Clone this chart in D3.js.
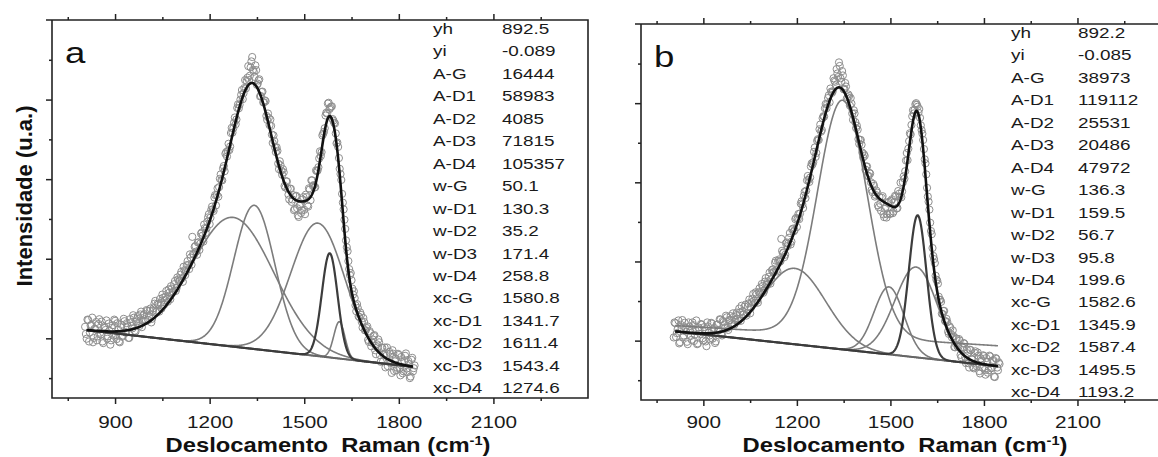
<!DOCTYPE html>
<html>
<head>
<meta charset="utf-8">
<script src="https://cdnjs.cloudflare.com/ajax/libs/d3/7.8.5/d3.min.js"></script>
<style>
  body { margin: 0; background: #fff; }
  svg { font-family: "Liberation Sans", Arial, sans-serif; }
</style>
</head>
<body>
<div id="chart"></div>
<script>
var width = 1158;
var height = 457;

// measured spectra: one set read at 805, 810, ... cm-1 and one in between (807.5, 812.5, ...)
var ramanStep = 5;
var intensityA = [829,799,846,815,834,790,824,841,805,848,810,792,830,821,799,837,784,826,807,844,
  798,822,790,834,807,843,814,830,801,840,825,852,817,849,836,860,828,858,848,871,
  846,869,840,869,887,866,887,867,889,910,884,905,900,923,898,925,917,944,926,948,
  945,967,942,971,969,994,974,1003,1055,1010,1032,1010,1041,1038,1066,1043,1077,1076,1104,1087,
  1123,1124,1154,1134,1177,1180,1212,1197,1233,1264,1257,1289,1282,1329,1328,1355,1350,1388,1387,1412,
  1401,1429,1428,1455,1449,1481,1507,1470,1486,1437,1448,1408,1419,1393,1398,1359,1365,1336,1334,1291,
  1296,1268,1271,1225,1235,1211,1217,1179,1194,1161,1176,1143,1160,1125,1158,1109,1133,1115,1149,1123,
  1161,1134,1177,1147,1197,1185,1180,1220,1230,1270,1268,1314,1328,1367,1390,1376,1382,1351,1342,1315,
  1292,1253,1213,1163,1124,1075,1029,994,959,946,910,901,868,876,853,859,827,841,820,830,
  791,813,789,806,770,785,797,758,777,742,777,756,730,766,738,770,718,749,726,758,
  707,740,717,756,724,743,700,746,717,732];
var intensityAmid = [811,847,792,832,852,801,823,795,836,814,842,788,826,845,805,819,795,833,847,809,
  838,792,828,804,849,816,838,801,848,831,858,819,842,856,831,867,845,861,843,869,
  856,875,849,876,894,869,885,899,875,902,896,919,892,915,931,916,936,919,953,943,
  960,951,980,959,984,984,1011,985,1012,1030,1018,1041,1022,1063,1058,1086,1065,1093,1112,1103,
  1131,1120,1160,1160,1156,1201,1198,1227,1220,1268,1271,1273,1316,1317,1342,1338,1379,1378,1400,1424,
  1416,1449,1447,1484,1460,1496,1475,1457,1474,1440,1451,1409,1420,1393,1396,1349,1354,1350,1312,1310,
  1280,1280,1239,1245,1221,1225,1183,1195,1176,1149,1176,1149,1122,1157,1127,1105,1137,1121,1155,1112,
  1155,1131,1174,1197,1183,1179,1222,1222,1252,1258,1310,1319,1360,1365,1392,1379,1383,1347,1340,1290,
  1281,1226,1198,1141,1098,1046,1019,974,964,925,918,883,886,855,865,841,851,820,826,796,
  818,780,797,808,760,777,790,741,776,759,727,777,741,761,713,761,742,720,761,724,
  753,712,743,762,715,735,704,751,725];
var intensityB = [808,844,819,851,796,832,808,845,823,791,836,812,846,799,825,791,833,817,840,800,
  826,786,836,813,845,805,832,798,841,826,853,813,847,832,859,827,851,841,869,841,
  864,854,881,850,874,866,891,869,894,869,897,918,895,917,896,932,922,938,926,958,
  943,961,944,978,972,997,978,1001,999,1057,1021,1011,1046,1039,1060,1043,1081,1076,1107,1087,
  1120,1121,1152,1135,1176,1179,1216,1201,1240,1245,1277,1264,1305,1307,1346,1332,1367,1387,1387,1413,
  1402,1429,1430,1457,1445,1475,1503,1463,1481,1435,1451,1411,1422,1394,1399,1358,1374,1337,1333,1297,
  1307,1275,1271,1232,1240,1216,1222,1181,1196,1164,1179,1142,1163,1128,1165,1112,1138,1119,1151,1121,
  1157,1126,1166,1134,1178,1164,1162,1200,1209,1255,1256,1304,1321,1367,1374,1397,1396,1376,1363,1332,
  1307,1258,1220,1164,1131,1077,1034,1006,964,952,911,903,868,875,850,855,823,836,816,826,
  784,806,786,804,764,784,794,758,778,743,777,754,733,769,742,770,723,755,732,761,
  714,747,725,760,731,751,708,754,725,741];
var intensityBmid = [846,809,829,793,840,852,813,833,797,846,824,802,839,815,851,793,829,842,806,834,
  798,846,820,803,843,829,794,840,827,854,817,850,839,863,832,852,862,842,860,852,
  871,850,871,888,866,886,863,886,904,883,906,901,922,901,923,919,943,921,949,941,
  950,972,955,980,975,1002,975,1005,1001,1027,1023,1017,1048,1045,1072,1050,1083,1079,1110,1108,
  1107,1146,1144,1166,1160,1205,1206,1212,1248,1251,1288,1274,1309,1334,1328,1362,1366,1398,1398,1420,
  1437,1426,1463,1454,1486,1466,1494,1454,1470,1436,1442,1415,1418,1413,1374,1382,1352,1343,1309,1307,
  1295,1263,1267,1240,1216,1224,1200,1175,1191,1168,1174,1137,1146,1161,1119,1133,1111,1148,1120,1153,
  1122,1150,1164,1135,1171,1199,1177,1215,1228,1274,1285,1324,1345,1382,1383,1400,1391,1385,1344,1323,
  1284,1248,1186,1151,1098,1069,1014,996,954,944,903,898,867,875,848,847,817,832,808,811,
  783,805,783,800,758,782,792,743,768,732,776,752,730,773,735,762,717,750,763,726,
  756,719,762,730,749,709,756,732,745];

// fit parameters printed in each panel
var paramNames = ["yh","yi","A-G","A-D1","A-D2","A-D3","A-D4","w-G","w-D1","w-D2","w-D3","w-D4",
  "xc-G","xc-D1","xc-D2","xc-D3","xc-D4"];
var paramsA = [892.5,-0.089,16444,58983,4085,71815,105357,50.1,130.3,35.2,171.4,258.8,
  1580.8,1341.7,1611.4,1543.4,1274.6];
var paramsB = [892.2,-0.085,38973,119112,25531,20486,47972,136.3,159.5,56.7,95.8,199.6,
  1582.6,1345.9,1587.4,1495.5,1193.2];
var peaks = ["G","D1","D2","D3","D4"];

// in panel b the D1 band is drawn on a raised straight line (read at its two ends)
var raisedBaseX = [810, 1845];
var raisedBaseB = [838, 787];

var xMajor = [900,1200,1500,1800,2100];
var xMinor = [750,1050,1350,1650,1950,2250];
var yMajor = [800,1000,1200,1400];
var yMinor = [700,900,1100,1300,1500];

var stretch = "scale(1.22,1)";

var svg = d3.select("#chart")
  .append("svg")
  .attr("width", width)
  .attr("height", height);

function param(vals, key) { return vals[paramNames.indexOf(key)]; }

function gauss(x, A, w, xc) {
  return A / (w * Math.sqrt(Math.PI / 2)) * Math.exp(-2 * Math.pow((x - xc) / w, 2));
}

var panels = [
  {label: "a", values: paramsA, data: intensityA, mid: intensityAmid, dark: "G", raised: null,
   left: 52, right: 588, top: 20, bottom: 398, tableX: 433, valueX: 502, tableY: 34, titleX: 328, pad: 12},
  {label: "b", values: paramsB, data: intensityB, mid: intensityBmid, dark: "D2", raised: "D1",
   left: 641, right: 1171, top: 24, bottom: 400, tableX: 1011, valueX: 1078, tableY: 38, titleX: 905, pad: 10}
];

panels.forEach(function(p) {
  var x = d3.scaleLinear().domain([700, 2400]).range([p.left, p.right]);
  var y = d3.scaleLinear().domain([650, 1600]).range([p.bottom, p.top]);
  var g = svg.append("g");

  var yh = param(p.values, "yh"), yi = param(p.values, "yi");
  var base = function(v) { return yh + yi * v; };
  var raisedLine = d3.scaleLinear().domain(raisedBaseX).range(raisedBaseB);
  var comp = function(name) {
    var A = param(p.values, "A-" + name), w = param(p.values, "w-" + name), xc = param(p.values, "xc-" + name);
    return function(v) { return gauss(v, A, w, xc); };
  };
  var grid = d3.range(810, 1846, 1);

  // data points
  var pts = p.data.map(function(d, i) { return [805 + i * ramanStep, d]; })
    .concat(p.mid.map(function(d, i) { return [807.5 + i * ramanStep, d]; }));
  g.selectAll(".pt")
    .data(pts)
    .enter().append("circle")
      .attr("cx", function(d) { return x(d[0]); })
      .attr("cy", function(d) { return y(d[1]); })
      .attr("r", 3.6)
      .attr("fill", "none")
      .attr("stroke", "#8e8e8e")
      .attr("stroke-width", 1);

  var line = d3.line().x(function(d) { return x(d[0]); }).y(function(d) { return y(d[1]); });

  // components (gray), narrow one darker
  peaks.forEach(function(name) {
    if (name === p.dark) return;
    var f = comp(name);
    var b0 = name === p.raised ? raisedLine : base;
    g.append("path")
      .attr("d", line(grid.map(function(v) { return [v, b0(v) + f(v)]; })))
      .attr("fill", "none").attr("stroke", "#7c7c7c").attr("stroke-width", 1.6);
  });
  g.append("path")
    .attr("d", line(grid.map(function(v) { return [v, base(v)]; })))
    .attr("fill", "none").attr("stroke", "#666").attr("stroke-width", 2);
  var fd = comp(p.dark);
  g.append("path")
    .attr("d", line(grid.map(function(v) { return [v, base(v) + fd(v)]; })))
    .attr("fill", "none").attr("stroke", "#3c3c3c").attr("stroke-width", 2.2);

  // cumulative fit
  var fits = peaks.map(comp);
  g.append("path")
    .attr("d", line(grid.map(function(v) { return [v, base(v) + d3.sum(fits, function(f) { return f(v); })]; })))
    .attr("fill", "none").attr("stroke", "#111").attr("stroke-width", 2.6);

  // frame
  g.append("path")
    .attr("d", "M" + (p.left - 6) + "," + p.top + "H" + p.right + "V" + p.bottom + "H" + p.left + "V" + p.top)
    .attr("fill", "none").attr("stroke", "#222").attr("stroke-width", 1.6);

  function axisG(axis, tx, ty) {
    var a = g.append("g").attr("transform", "translate(" + tx + "," + ty + ")").call(axis);
    a.select(".domain").remove();
    a.selectAll("line").attr("stroke", "#222").attr("stroke-width", 1.5);
    return a;
  }

  var bottom = axisG(d3.axisBottom(x).tickValues(xMajor).tickSize(6).tickPadding(p.pad)
    .tickFormat(d3.format("d")), 0, p.bottom);
  bottom.attr("font-size", 17).attr("font-family", null);
  bottom.selectAll("text").attr("fill", "#1a1a1a").attr("transform", stretch);
  axisG(d3.axisBottom(x).tickValues(xMinor).tickSize(3).tickFormat(""), 0, p.bottom);
  axisG(d3.axisTop(x).tickValues(xMajor).tickSize(6).tickFormat(""), 0, p.top);
  axisG(d3.axisTop(x).tickValues(xMinor).tickSize(3).tickFormat(""), 0, p.top);
  axisG(d3.axisLeft(y).tickValues(yMajor).tickSize(6).tickFormat(""), p.left, 0);
  axisG(d3.axisLeft(y).tickValues(yMinor).tickSize(3).tickFormat(""), p.left, 0);

  // panel letter
  g.append("text")
    .attr("transform", "translate(" + (p.left + 13) + "," + (p.top + 43) + ") " + stretch)
    .attr("font-size", 30)
    .attr("fill", "#111")
    .text(p.label);

  // parameter table
  paramNames.forEach(function(name, i) {
    var ty = p.tableY + i * 22.45;
    g.append("text")
      .attr("transform", "translate(" + p.tableX + "," + ty + ") " + stretch)
      .attr("font-size", 15.5).attr("fill", "#1a1a1a")
      .text(name);
    g.append("text")
      .attr("transform", "translate(" + p.valueX + "," + ty + ") " + stretch)
      .attr("font-size", 15.5).attr("fill", "#1a1a1a")
      .text(String(p.values[i]));
  });

  // x axis title
  var title = g.append("text")
    .attr("transform", "translate(" + p.titleX + ",452) " + stretch)
    .attr("text-anchor", "middle")
    .attr("font-size", 19.5)
    .attr("font-weight", "bold")
    .attr("fill", "#111")
    .style("white-space", "pre");
  title.append("tspan").text("Deslocamento  Raman (cm");
  title.append("tspan").attr("dy", -7).attr("font-size", 12).text("-1");
  title.append("tspan").attr("dy", 7).text(")");
});

// y axis title (left panel only)
svg.append("text")
  .attr("transform", "translate(32,196) rotate(-90)")
  .attr("text-anchor", "middle")
  .attr("font-size", 22)
  .attr("font-weight", "bold")
  .attr("fill", "#111")
  .text("Intensidade (u.a.)");
</script>
</body>
</html>
